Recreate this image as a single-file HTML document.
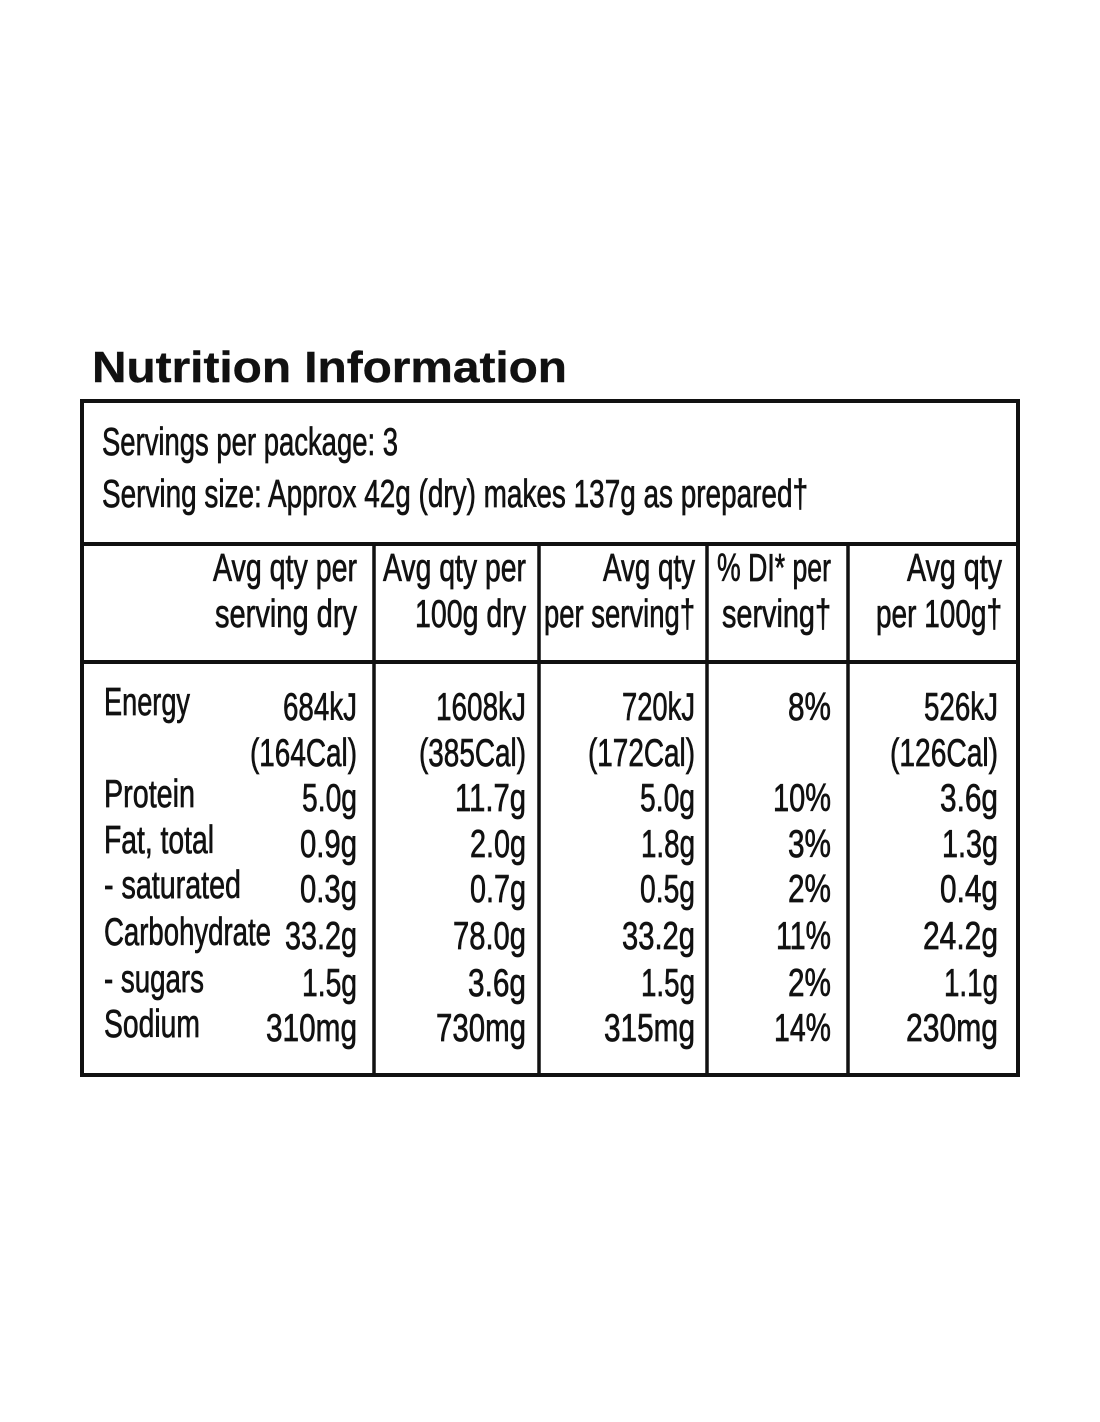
<!DOCTYPE html>
<html><head><meta charset="utf-8"><style>
html,body{margin:0;padding:0;background:#fff;width:1100px;height:1422px;overflow:hidden}
svg text{font-family:"Liberation Sans Narrow","Liberation Sans",sans-serif;fill:#111;font-size:39px;stroke:#111;stroke-width:0.7px}
</style></head><body>
<svg width="1100" height="1422" viewBox="0 0 1100 1422" xmlns="http://www.w3.org/2000/svg">
<text x="92" y="382" style="font-family:'Liberation Sans',sans-serif;font-weight:bold;font-size:44px;stroke-width:0.4px" textLength="475" lengthAdjust="spacingAndGlyphs">Nutrition Information</text>
<rect x="82" y="401" width="936" height="674" fill="none" stroke="#111" stroke-width="4"/>
<line x1="82" y1="544" x2="1018" y2="544" stroke="#111" stroke-width="4"/>
<line x1="82" y1="662" x2="1018" y2="662" stroke="#111" stroke-width="4"/>
<line x1="374" y1="544" x2="374" y2="1075" stroke="#111" stroke-width="3.5"/>
<line x1="539" y1="544" x2="539" y2="1075" stroke="#111" stroke-width="3.5"/>
<line x1="707" y1="544" x2="707" y2="1075" stroke="#111" stroke-width="3.5"/>
<line x1="848" y1="544" x2="848" y2="1075" stroke="#111" stroke-width="3.5"/>
<g>
<text x="102" y="455" textLength="296" lengthAdjust="spacingAndGlyphs">Servings per package: 3</text>
<text x="102" y="507" textLength="706" lengthAdjust="spacingAndGlyphs">Serving size: Approx 42g (dry) makes 137g as prepared†</text>
<text x="213" y="581" textLength="144" lengthAdjust="spacingAndGlyphs">Avg qty per</text>
<text x="215" y="627" textLength="142" lengthAdjust="spacingAndGlyphs">serving dry</text>
<text x="383" y="581" textLength="143" lengthAdjust="spacingAndGlyphs">Avg qty per</text>
<text x="415" y="627" textLength="111" lengthAdjust="spacingAndGlyphs">100g dry</text>
<text x="603" y="581" textLength="92" lengthAdjust="spacingAndGlyphs">Avg qty</text>
<text x="544" y="627" textLength="151" lengthAdjust="spacingAndGlyphs">per serving†</text>
<text x="717" y="581" textLength="114" lengthAdjust="spacingAndGlyphs">% DI* per</text>
<text x="722" y="627" textLength="109" lengthAdjust="spacingAndGlyphs">serving†</text>
<text x="907" y="581" textLength="95" lengthAdjust="spacingAndGlyphs">Avg qty</text>
<text x="876" y="627" textLength="126" lengthAdjust="spacingAndGlyphs">per 100g†</text>

<text x="104" y="715" textLength="86" lengthAdjust="spacingAndGlyphs">Energy</text>
<text x="104" y="807" textLength="91" lengthAdjust="spacingAndGlyphs">Protein</text>
<text x="104" y="853" textLength="110" lengthAdjust="spacingAndGlyphs">Fat, total</text>
<text x="104" y="898" textLength="137" lengthAdjust="spacingAndGlyphs">- saturated</text>
<text x="104" y="945" textLength="167" lengthAdjust="spacingAndGlyphs">Carbohydrate</text>
<text x="104" y="992" textLength="100" lengthAdjust="spacingAndGlyphs">- sugars</text>
<text x="104" y="1037" textLength="96" lengthAdjust="spacingAndGlyphs">Sodium</text>

<text x="283" y="720" textLength="74" lengthAdjust="spacingAndGlyphs">684kJ</text>
<text x="250" y="766" textLength="107" lengthAdjust="spacingAndGlyphs">(164Cal)</text>
<text x="302" y="811" textLength="55" lengthAdjust="spacingAndGlyphs">5.0g</text>
<text x="300" y="857" textLength="57" lengthAdjust="spacingAndGlyphs">0.9g</text>
<text x="300" y="902" textLength="57" lengthAdjust="spacingAndGlyphs">0.3g</text>
<text x="285" y="949" textLength="72" lengthAdjust="spacingAndGlyphs">33.2g</text>
<text x="302" y="996" textLength="55" lengthAdjust="spacingAndGlyphs">1.5g</text>
<text x="266" y="1041" textLength="91" lengthAdjust="spacingAndGlyphs">310mg</text>

<text x="436" y="720" textLength="90" lengthAdjust="spacingAndGlyphs">1608kJ</text>
<text x="419" y="766" textLength="107" lengthAdjust="spacingAndGlyphs">(385Cal)</text>
<text x="455" y="811" textLength="71" lengthAdjust="spacingAndGlyphs">11.7g</text>
<text x="470" y="857" textLength="56" lengthAdjust="spacingAndGlyphs">2.0g</text>
<text x="470" y="902" textLength="56" lengthAdjust="spacingAndGlyphs">0.7g</text>
<text x="453" y="949" textLength="73" lengthAdjust="spacingAndGlyphs">78.0g</text>
<text x="468" y="996" textLength="58" lengthAdjust="spacingAndGlyphs">3.6g</text>
<text x="436" y="1041" textLength="90" lengthAdjust="spacingAndGlyphs">730mg</text>

<text x="622" y="720" textLength="73" lengthAdjust="spacingAndGlyphs">720kJ</text>
<text x="588" y="766" textLength="107" lengthAdjust="spacingAndGlyphs">(172Cal)</text>
<text x="640" y="811" textLength="55" lengthAdjust="spacingAndGlyphs">5.0g</text>
<text x="641" y="857" textLength="54" lengthAdjust="spacingAndGlyphs">1.8g</text>
<text x="640" y="902" textLength="55" lengthAdjust="spacingAndGlyphs">0.5g</text>
<text x="622" y="949" textLength="73" lengthAdjust="spacingAndGlyphs">33.2g</text>
<text x="641" y="996" textLength="54" lengthAdjust="spacingAndGlyphs">1.5g</text>
<text x="604" y="1041" textLength="91" lengthAdjust="spacingAndGlyphs">315mg</text>

<text x="788" y="720" textLength="43" lengthAdjust="spacingAndGlyphs">8%</text>
<text x="773" y="811" textLength="58" lengthAdjust="spacingAndGlyphs">10%</text>
<text x="788" y="857" textLength="43" lengthAdjust="spacingAndGlyphs">3%</text>
<text x="788" y="902" textLength="43" lengthAdjust="spacingAndGlyphs">2%</text>
<text x="776" y="949" textLength="55" lengthAdjust="spacingAndGlyphs">11%</text>
<text x="788" y="996" textLength="43" lengthAdjust="spacingAndGlyphs">2%</text>
<text x="774" y="1041" textLength="57" lengthAdjust="spacingAndGlyphs">14%</text>

<text x="924" y="720" textLength="74" lengthAdjust="spacingAndGlyphs">526kJ</text>
<text x="890" y="766" textLength="108" lengthAdjust="spacingAndGlyphs">(126Cal)</text>
<text x="940" y="811" textLength="58" lengthAdjust="spacingAndGlyphs">3.6g</text>
<text x="942" y="857" textLength="56" lengthAdjust="spacingAndGlyphs">1.3g</text>
<text x="940" y="902" textLength="58" lengthAdjust="spacingAndGlyphs">0.4g</text>
<text x="923" y="949" textLength="75" lengthAdjust="spacingAndGlyphs">24.2g</text>
<text x="944" y="996" textLength="54" lengthAdjust="spacingAndGlyphs">1.1g</text>
<text x="906" y="1041" textLength="92" lengthAdjust="spacingAndGlyphs">230mg</text>
</g>
</svg>
</body></html>
